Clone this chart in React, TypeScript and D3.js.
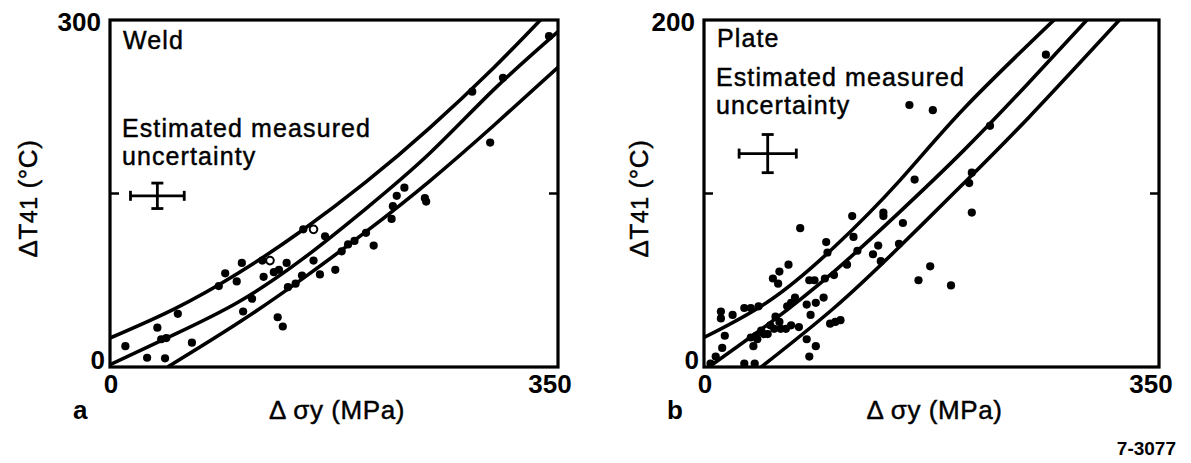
import * as d3 from 'd3';

// axis domains and tick labels
const xDomain: [number, number] = [0, 350];
const weldYDomain: [number, number] = [0, 300];
const plateYDomain: [number, number] = [0, 200];
const weldYTicks = [0, 150, 300];
const plateYTicks = [0, 100, 200];
const xTickLabels = [0, 350];

// fitted bands: [Δσy MPa, ΔT41 °C]
const weldUpper: [number, number][] = [[0, 25], [50, 50], [100, 81], [150, 118], [200, 160], [250, 207], [300, 259], [338, 302]];
const weldMiddle: [number, number][] = [[0, 2], [50, 28], [100, 56], [150, 93], [200, 137], [250, 185], [300, 240], [350, 290]];
const weldLower: [number, number][] = [[45, 0], [100, 38], [150, 76], [200, 117], [250, 161], [300, 209], [350, 259]];

const plateUpper: [number, number][] = [[0, 17], [50, 38], [100, 69], [150, 107], [200, 149], [272, 202]];
const plateMiddle: [number, number][] = [[0, -2], [50, 25], [100, 55], [150, 89], [200, 125], [250, 164], [297, 202]];
const plateLower: [number, number][] = [[44, 0], [100, 34], [150, 69], [200, 106], [250, 144], [322, 202]];

// measured points
const weldPoints: [number, number][] = [
  [283, 238], [307, 250], [343, 286], [297, 194], [230, 155], [224, 148], [246, 146],
  [247, 143], [221, 139], [220, 128], [200, 116], [191, 109], [186, 106], [206, 105],
  [181, 100], [168, 113], [151, 119], [176, 84], [164, 80], [159, 92], [150, 79],
  [145, 72], [139, 69], [138, 90], [132, 84], [119, 92], [128, 82], [120, 78],
  [103, 90], [90, 81], [85, 70], [99, 74], [111, 59], [104, 48], [131, 43], [135, 35],
  [53, 46], [37, 34], [40, 24], [44, 25], [64, 21], [12, 18], [29, 8], [43, 7.5]
];
const weldOpen: [number, number][] = [[159, 119], [125, 92]];

const platePoints: [number, number][] = [
  [263, 180], [158, 151], [176, 148], [220, 139], [206, 112], [204, 106], [162, 108],
  [206, 89], [138, 89], [138, 87], [114, 87], [74, 80], [153, 83], [134, 70], [150, 71],
  [130, 65], [115, 75], [118, 67], [110, 59], [94, 72], [95, 66], [100, 53], [93, 51],
  [81, 50], [85, 50], [174, 58], [165, 50], [190, 47], [136, 61], [65, 59], [58, 55],
  [53, 51], [57, 48], [70, 40], [67, 37], [64, 35], [92, 40], [86, 37], [79, 36],
  [82, 30], [97, 25], [105, 27], [101, 26], [79, 16], [86, 12], [81, 6], [58, 26],
  [51, 24], [54, 22], [49, 19], [44, 21], [40, 18], [36, 17], [41, 16], [46, 19],
  [59, 22], [55, 29], [67, 24], [73, 23], [63, 22], [38, 12], [31, 34], [36, 34],
  [42, 35], [22, 30], [13, 32], [13, 28], [16, 18], [14, 11], [9, 6], [31, 2], [39, 2], [5, 2]
];

// estimated measurement uncertainty: centre and half-widths
const weldError = { x: 37, y: 148, dx: 21, dy: 11 };
const plateError = { x: 49, y: 123, dx: 22, dy: 11 };

const FONT = '"Liberation Sans", Arial, Helvetica, sans-serif';

interface PanelProps {
  left: number;
  right: number;
  top: number;
  bottom: number;
  yDomain: [number, number];
  yTicks: number[];
  curves: [number, number][][];
  points: [number, number][];
  open?: [number, number][];
  error: { x: number; y: number; dx: number; dy: number };
  name: string;
  nameY: number;
  noteY: number;
  letter: string;
  id: string;
  yLabelX: number;
}

function Panel(p: PanelProps) {
  const x = d3.scaleLinear().domain(xDomain).range([p.left, p.right]);
  const y = d3.scaleLinear().domain(p.yDomain).range([p.bottom, p.top]);
  const line = d3
    .line<[number, number]>()
    .x(d => x(d[0]))
    .y(d => y(d[1]))
    .curve(d3.curveNatural);

  const e = p.error;
  const ex0 = x(e.x - e.dx);
  const ex1 = x(e.x + e.dx);
  const ey0 = y(e.y + e.dy);
  const ey1 = y(e.y - e.dy);
  const ecx = x(e.x);
  const ecy = y(e.y);
  const midY = (p.top + p.bottom) / 2 + 5;

  // text looks a little heavy in the scan
  const ink = { stroke: '#000', strokeWidth: 0.45 };

  return (
    <g fontFamily={FONT} fill="#000">
      <defs>
        <clipPath id={p.id}>
          <rect x={p.left} y={p.top} width={p.right - p.left} height={p.bottom - p.top} />
        </clipPath>
      </defs>

      <g clipPath={`url(#${p.id})`}>
        {p.curves.map((c, i) => (
          <path key={i} d={line(c) || ''} fill="none" stroke="#000" strokeWidth={3.6} />
        ))}
      </g>

      {p.points.map((d, i) => (
        <circle key={i} cx={x(d[0])} cy={y(d[1])} r={4.1} fill="#000" />
      ))}
      {(p.open || []).map((d, i) => (
        <circle key={'o' + i} cx={x(d[0])} cy={y(d[1])} r={3.8} fill="#fff" stroke="#000" strokeWidth={2} />
      ))}

      {/* frame */}
      <rect x={p.left} y={p.top} width={p.right - p.left} height={p.bottom - p.top} fill="none" stroke="#000" strokeWidth={3.2} />
      {p.yTicks.slice(1, -1).map(t => (
        <g key={t}>
          <line x1={p.left} x2={p.left + 9} y1={y(t)} y2={y(t)} stroke="#000" strokeWidth={2.5} />
          <line x1={p.right - 9} x2={p.right} y1={y(t)} y2={y(t)} stroke="#000" strokeWidth={2.5} />
        </g>
      ))}

      {/* uncertainty cross */}
      <g stroke="#000" strokeWidth={2.8}>
        <line x1={ex0} x2={ex1} y1={ecy} y2={ecy} />
        <line x1={ex0} x2={ex0} y1={ecy - 5} y2={ecy + 5} />
        <line x1={ex1} x2={ex1} y1={ecy - 5} y2={ecy + 5} />
        <line x1={ecx} x2={ecx} y1={ey0} y2={ey1} />
        <line x1={ecx - 6} x2={ecx + 6} y1={ey0} y2={ey0} />
        <line x1={ecx - 6} x2={ecx + 6} y1={ey1} y2={ey1} />
      </g>

      {/* tick labels */}
      <text x={p.left - 9} y={y(p.yTicks[p.yTicks.length - 1]) + 11} fontSize={26} textAnchor="end" fontWeight="bold">
        {p.yTicks[p.yTicks.length - 1]}
      </text>
      <text x={p.left - 5} y={y(0) + 2} fontSize={26} textAnchor="end" fontWeight="bold">
        {p.yTicks[0]}
      </text>
      <text x={x(xTickLabels[0]) + 1} y={y(0) + 26} fontSize={26} textAnchor="middle" fontWeight="bold">
        {xTickLabels[0]}
      </text>
      <text x={x(xTickLabels[1]) - 8} y={y(0) + 26} fontSize={26} textAnchor="middle" fontWeight="bold">
        {xTickLabels[1]}
      </text>

      {/* annotations */}
      <g fontSize={25} letterSpacing={1.1} {...ink}>
        <text x={p.left + 13} y={p.nameY}>{p.name}</text>
        <text x={p.left + 12} y={p.noteY}>Estimated measured</text>
        <text x={p.left + 12} y={p.noteY + 28}>uncertainty</text>
      </g>

      {/* axis titles */}
      <text x={p.left - 37} y={p.bottom + 52} fontSize={26} fontWeight="bold">{p.letter}</text>
      <text
        x={(p.left + p.right) / 2 + 3}
        y={p.bottom + 52}
        fontSize={26}
        letterSpacing={0.6}
        textAnchor="middle"
        {...ink}
      >
        Δ σy  (MPa)
      </text>
      <text
        transform={`translate(${p.yLabelX},${midY}) rotate(-90)`}
        fontSize={26}
        letterSpacing={0.6}
        textAnchor="middle"
        {...ink}
      >
        ΔT<tspan fontSize={23}>41</tspan> (°C)
      </text>
    </g>
  );
}

export default function App() {
  return (
    <svg
      width={1191}
      height={463}
      style={{ position: 'absolute', left: 0, top: 0, background: '#fff' }}
    >
      <rect width={1191} height={463} fill="#fff" />
      <Panel
        id="clip-weld"
        left={110}
        right={558}
        top={20}
        bottom={367}
        yDomain={weldYDomain}
        yTicks={weldYTicks}
        curves={[weldUpper, weldMiddle, weldLower]}
        points={weldPoints}
        open={weldOpen}
        error={weldError}
        name="Weld"
        nameY={49}
        noteY={137}
        letter="a"
        yLabelX={37}
      />
      <Panel
        id="clip-plate"
        left={704}
        right={1159}
        top={20}
        bottom={367}
        yDomain={plateYDomain}
        yTicks={plateYTicks}
        curves={[plateUpper, plateMiddle, plateLower]}
        points={platePoints}
        error={plateError}
        name="Plate"
        nameY={47}
        noteY={86}
        letter="b"
        yLabelX={648}
      />
      <text x={1176} y={455} fontFamily={FONT} fontSize={19} fontWeight="bold" textAnchor="end">
        7-3077
      </text>
    </svg>
  );
}
